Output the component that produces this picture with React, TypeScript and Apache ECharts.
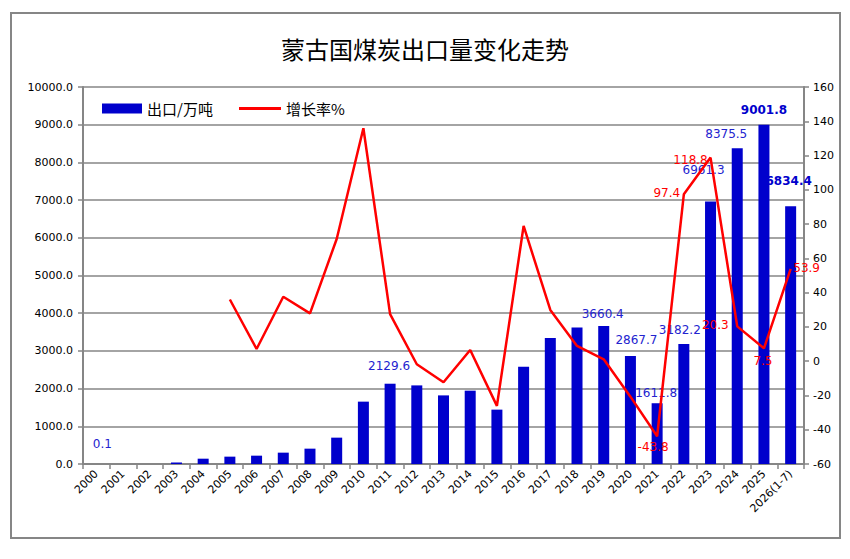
import React, { useEffect, useRef } from "react";
import * as echarts from "echarts";

const TITLE = "蒙古国煤炭出口量变化走势";
const SERIES_BAR = "出口/万吨";
const SERIES_LINE = "增长率%";

const categories = [
  "2000", "2001", "2002", "2003", "2004", "2005", "2006", "2007", "2008", "2009",
  "2010", "2011", "2012", "2013", "2014", "2015", "2016", "2017", "2018", "2019",
  "2020", "2021", "2022", "2023", "2024", "2025", "2026(1-7)",
];

const exportVolume = [
  0.1, 0, 0, 40, 141, 195, 221, 301, 407, 699,
  1654, 2129.6, 2085, 1820, 1945, 1442, 2582, 3340, 3620, 3660.4,
  2867.7, 1611.8, 3182.2, 6961.3, 8375.5, 9001.8, 6834.4,
];

const growthRate = [
  null, null, null, null, null, 36, 7.1, 37.6, 27.9, 71.3,
  135.9, 27.5, -1.8, -12.3, 6.5, -26.1, 78.9, 29.9, 8.9, 1.1,
  -20.7, -43.8, 97.4, 118.8, 20.3, 7.5, 53.9,
];

// label placement (styles, not data)
const barLabelOffsets: Record<number, { offset: number[]; bold?: boolean }> = {
  0: { offset: [6, -9] },
  11: { offset: [-1, -7] },
  19: { offset: [-1, -1] },
  20: { offset: [6, -5] },
  21: { offset: [-1, 1] },
  22: { offset: [-4, -3] },
  23: { offset: [-7, -21] },
  24: { offset: [-11, -3] },
  25: { offset: [0, -4], bold: true },
  26: { offset: [-2, -14], bold: true },
};

const lineLabelOffsets: Record<number, number[]> = {
  21: [-4, 11],
  22: [-17, -1],
  23: [-20, 2],
  24: [-22, -1],
  25: [-1, 13],
  26: [16, -1],
};

const GRAY = "#868686";
const BLUE = "#0000CC";
const RED = "#FF0000";
const NUM_FONT = "DejaVu Sans";
const CJK_FONT = "Noto Sans CJK SC";

export default function App() {
  const ref = useRef<HTMLDivElement>(null);

  useEffect(() => {
    if (!ref.current) return;
    const chart = echarts.init(ref.current, null, { renderer: "svg" });

    const barData = exportVolume.map((v, i) => {
      const cfg = barLabelOffsets[i];
      if (!cfg) return { value: v };
      return {
        value: v,
        label: {
          show: true,
          position: "top",
          offset: cfg.offset,
          fontWeight: cfg.bold ? "bold" : "normal",
          color: cfg.bold ? BLUE : "#2323CF",
        },
      };
    });

    const lineData = growthRate.map((v, i) => {
      const off = lineLabelOffsets[i];
      if (!off) return { value: v };
      return {
        value: v,
        label: { show: true, position: "inside", offset: off },
      };
    });

    const legendText = { fontFamily: CJK_FONT, fontSize: 15, color: "#000", lineHeight: 17 };

    chart.setOption({
      animation: false,
      backgroundColor: "#ffffff",
      title: {
        text: TITLE,
        left: "center",
        top: 31,
        textStyle: {
          fontFamily: CJK_FONT,
          fontSize: 24,
          fontWeight: "normal",
          color: "#000",
        },
      },
      legend: [
        {
          data: [SERIES_BAR],
          left: 102,
          top: 100,
          padding: 0,
          itemWidth: 40,
          itemHeight: 10,
          itemGap: 0,
          icon: "rect",
          textStyle: legendText,
        },
        {
          data: [SERIES_LINE],
          left: 239,
          top: 100,
          padding: 0,
          itemWidth: 42,
          itemHeight: 3,
          icon: "rect",
          textStyle: legendText,
        },
      ],
      graphic: [
        {
          type: "rect",
          shape: { x: 11, y: 13, width: 829, height: 525 },
          style: { fill: "none", stroke: GRAY, lineWidth: 2 },
          z: 100,
        },
      ],
      grid: { left: 83, right: 46, top: 87, bottom: 95, containLabel: false },
      xAxis: {
        type: "category",
        data: categories,
        boundaryGap: true,
        axisLine: { lineStyle: { color: GRAY, width: 2 } },
        axisTick: { show: true, length: 5, lineStyle: { color: GRAY, width: 1.5 } },
        axisLabel: {
          rotate: 45,
          interval: 0,
          margin: 8,
          fontFamily: NUM_FONT,
          fontSize: 11,
          color: "#000",
        },
      },
      yAxis: [
        {
          type: "value",
          min: 0,
          max: 10000,
          interval: 1000,
          axisLine: { show: true, lineStyle: { color: GRAY, width: 2 } },
          axisTick: { show: true, length: 5, lineStyle: { color: GRAY, width: 1.5 } },
          splitLine: { show: true, lineStyle: { color: GRAY, width: 1.5 } },
          axisLabel: {
            margin: 10,
            fontFamily: NUM_FONT,
            fontSize: 11,
            color: "#000",
            formatter: (v: number) => v.toFixed(1),
          },
        },
        {
          type: "value",
          min: -60,
          max: 160,
          interval: 20,
          position: "right",
          axisLine: { show: true, lineStyle: { color: GRAY, width: 2 } },
          axisTick: { show: true, length: 5, lineStyle: { color: GRAY, width: 1.5 } },
          splitLine: { show: false },
          axisLabel: {
            margin: 9,
            fontFamily: NUM_FONT,
            fontSize: 11,
            color: "#000",
          },
        },
      ],
      series: [
        {
          name: SERIES_BAR,
          type: "bar",
          yAxisIndex: 0,
          data: barData,
          barWidth: 11,
          itemStyle: { color: BLUE },
          label: {
            show: false,
            fontFamily: NUM_FONT,
            fontSize: 12,
            formatter: (p: any) => Number(p.value).toFixed(1),
          },
        },
        {
          name: SERIES_LINE,
          type: "line",
          yAxisIndex: 1,
          data: lineData,
          symbol: "circle",
          symbolSize: 0.1,
          showSymbol: true,
          connectNulls: false,
          itemStyle: { color: RED },
          lineStyle: { color: RED, width: 2.5 },
          label: {
            show: false,
            color: RED,
            fontFamily: NUM_FONT,
            fontSize: 12,
            formatter: (p: any) => Number(p.value).toFixed(1),
          },
          z: 3,
        },
      ],
    });

    return () => chart.dispose();
  }, []);

  return (
    <div
      ref={ref}
      style={{ position: "absolute", left: 0, top: 0, width: 850, height: 559 }}
    />
  );
}
